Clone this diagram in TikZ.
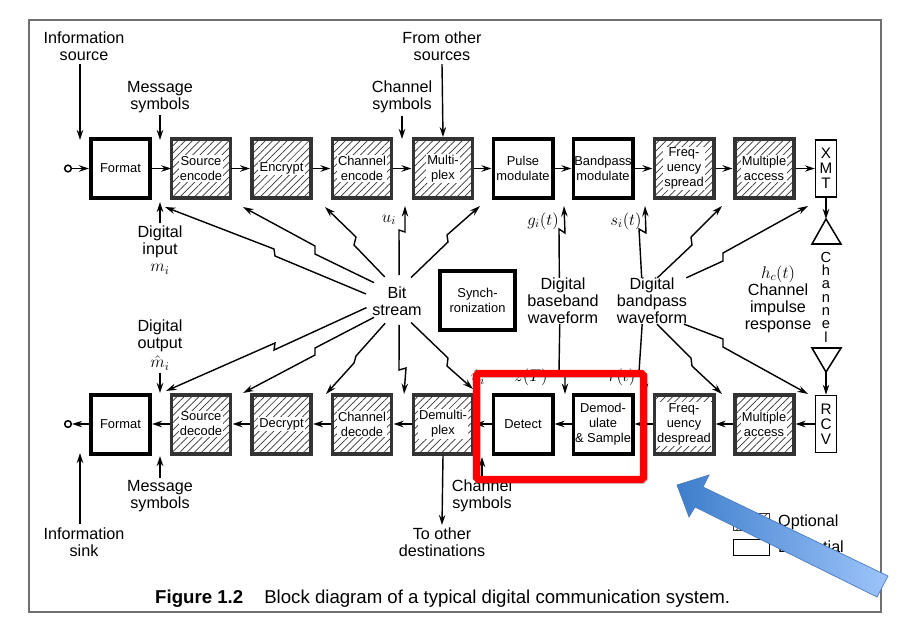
\documentclass[tikz,border=0pt]{standalone}
\usepackage{fontspec}
\setmainfont{Liberation Sans}
\usepackage{tikz}
\usetikzlibrary{
  arrows.meta,
  patterns.meta,
  shapes.geometric
}
\definecolor{FrameGray}{HTML}{707070}
\definecolor{HatchGray}{HTML}{333333}
\definecolor{ArrowDark}{HTML}{3E7ECC}
\definecolor{ArrowLight}{HTML}{9DC4FA}
\definecolor{ArrowEdge}{HTML}{4A7CBF}
\tikzset{
  plainbox/.style  = {draw=black, line width=3.4pt, fill=white, minimum width=1.77cm, minimum height=1.77cm, inner sep=0pt, align=center, font=\fontsize{11}{12.8}\selectfont},
  optbox/.style    = {draw=HatchGray, line width=3.4pt, minimum width=1.77cm, minimum height=1.77cm, inner sep=0pt, pattern={Lines[angle=45, distance=4.4pt, line width=0.6pt]}, pattern color=HatchGray},
  optlabel/.style  = {fill=white, inner sep=1pt, align=center, font=\fontsize{11}{12.8}\selectfont},
  thinbox/.style   = {draw=black, line width=1.2pt, fill=white, minimum width=0.63cm, minimum height=1.72cm, inner sep=0pt, align=center, font=\fontsize{13}{12.8}\selectfont},
  biglabel/.style  = {inner sep=0pt, yshift=-0.8pt, align=center, font=\fontsize{13.8}{14.5}\selectfont},
  arr/.style       = {line width=1.2pt, -{Stealth[length=8.5pt, width=5.5pt]}},
  bolt/.style      = {line width=1.2pt, line join=miter, -{Stealth[length=9pt, width=5.5pt]}},
  port/.style      = {circle, draw=black, line width=1.3pt, minimum size=0.2cm, inner sep=0pt},
  antenna/.style   = {draw=black, line width=1.3pt, line join=miter}
}

\begin{document}
\begin{tikzpicture}[x=0.03cm, y=-0.03cm]
  \useasboundingbox (0,0) rectangle (899,632);

  % Outer frame
  \draw [FrameGray, line width=1.7pt] (29,20) rectangle (881,612);

  % Transmit chain
  \node[plainbox] (fmta)  at (120.5,168.5) {Format};
  \node[optbox]   (senc)  at (201,168.5) {};
  \node[optbox]   (encr)  at (281.5,168.5) {};
  \node[optbox]   (cenc)  at (362,168.5) {};
  \node[optbox]   (mplx)  at (443,168.5) {};
  \node[plainbox] (pmod)  at (523,168.5) {Pulse\\modulate};
  \node[plainbox] (bmod)  at (603,168.5) {Bandpass\\modulate};
  \node[optbox]   (fspr)  at (684,168.5) {};
  \node[optbox]   (macc)  at (764,168.5) {};
  \node[thinbox]  (xmt)   at (826,168.5) {X\\M\\T};
  \node[optlabel] (sencl) at (senc) {Source\\encode};
  \node[optlabel] (encrl) at (encr) {Encrypt};
  \node[optlabel] (cencl) at (cenc) {Channel\\encode};
  \node[optlabel] (mplxl) at (mplx) {Multi-\\plex};
  \node[optlabel] (fsprl) at (fspr) {Freq-\\uency\\spread};
  \node[optlabel] (maccl) at (macc) {Multiple\\access};

  % Receive chain
  \node[plainbox] (fmtb)  at (120.5,424) {Format};
  \node[optbox]   (sdec)  at (201,424) {};
  \node[optbox]   (decr)  at (281.5,424) {};
  \node[optbox]   (cdec)  at (362,424) {};
  \node[optbox]   (dmux)  at (443,424) {};
  \node[plainbox] (dete)  at (523,424) {Detect};
  \node[plainbox] (demo)  at (603,424) {Demod-\\ulate\\\& Sample};
  \node[optbox]   (fdes)  at (684,424) {};
  \node[optbox]   (macb)  at (764,424) {};
  \node[thinbox]  (rcv)   at (826,424) {R\\C\\V};
  \node[optlabel] (sdecl) at (sdec) {Source\\decode};
  \node[optlabel] (decrl) at (decr) {Decrypt};
  \node[optlabel] (cdecl) at (cdec) {Channel\\decode};
  \node[optlabel] (dmuxl) at (dmux) {Demulti-\\plex};
  \node[optlabel] (fdesl) at (fdes) {Freq-\\uency\\despread};
  \node[optlabel] (macbl) at (macb) {Multiple\\access};

  \node[port] (srcpt) at (68,168.5) {};
  \node[port] (snkpt) at (68,424) {};

  % Middle of the picture
  \node[plainbox, minimum width=2.25cm] (sync) at (477.5,300.5) {Synch-\\ronization};
  \node[ellipse, minimum width=1.92cm, minimum height=1.5cm, inner sep=0pt, outer sep=0pt] (bit) at (397,300) {};
  \node[biglabel] (bitl) at (bit) {Bit\\stream};
  \node[biglabel] (base) at (563,300) {Digital\\baseband\\waveform};
  \node[biglabel] (pass) at (652,300) {Digital\\bandpass\\waveform};
  \node[biglabel] (impu) at (778,298) {$h_c(t)$\\Channel\\impulse\\response};
  \node[inner sep=0pt, align=center, font=\fontsize{12.5}{11.4}\selectfont] (chan) at (826,297) {C\\h\\a\\n\\n\\e\\l};

  % Labels
  \node[biglabel] (isrc) at (84,45)   {Information\\source};
  \node[biglabel] (msga) at (160,96)  {Message\\symbols};
  \node[biglabel] (chsa) at (402,96)  {Channel\\symbols};
  \node[biglabel] (from) at (442,45)  {From other\\sources};
  \node[biglabel] (dinp) at (160,249) {Digital\\input\\$m_i$};
  \node[biglabel] (dout) at (160,344) {Digital\\output\\[2pt]$\hat{m}_i$};
  \node[biglabel] (msgb) at (160,495) {Message\\symbols};
  \node[biglabel] (isnk) at (84,541)  {Information\\sink};
  \node[biglabel] (chsb) at (482,495) {Channel\\symbols};
  \node[biglabel] (dest) at (442,541) {To other\\destinations};
  \node[biglabel] (ui)   at (389,219) {$u_i$};
  \node[biglabel] (gi)   at (543,220) {$g_i(t)$};
  \node[biglabel] (si)   at (626,220) {$s_i(t)$};
  \node[biglabel] (uhat) at (478,376) {$\hat{u}_i$};
  \node[biglabel] (zt)   at (531,376) {$z(T)$};
  \node[biglabel] (rt)   at (622,376) {$r(t)$};

  % Free ends
  \coordinate (isrctip) at (80,140);
  \coordinate (msgatip) at (160,140);
  \coordinate (chsatip) at (402,139);
  \coordinate (dinptip) at (160,202);
  \coordinate (douttip) at (160,393);
  \coordinate (msgbtip) at (160,456);
  \coordinate (isnktip) at (80,453);
  \coordinate (chsbtip) at (482,457);
  \coordinate (anta)    at (826,219);
  \coordinate (antb)    at (826,372);

  \coordinate (tsenc) at (165,207);
  \coordinate (tencr) at (243,207);
  \coordinate (tcenc) at (325,207);
  \coordinate (tui)   at (405,206);
  \coordinate (tmplx) at (480,206);
  \coordinate (tgi)   at (564,206);
  \coordinate (tsi)   at (645,206);
  \coordinate (tfspr) at (722,206);
  \coordinate (txmt)  at (808,206);
  \coordinate (bsdec) at (166,391);
  \coordinate (bdecr) at (243,393);
  \coordinate (bcdec) at (326,394);
  \coordinate (bui)   at (404,394);
  \coordinate (bdmux) at (473,389);
  \coordinate (bzt)   at (565,394);
  \coordinate (brt)   at (645,394);
  \coordinate (bfdes) at (722,394);
  \coordinate (brcv)  at (808,394);

  % Arrows along the transmit chain
  \draw [arr] (srcpt) -- (fmta);
  \draw [arr] (fmta) -- (senc);
  \draw [arr] (senc) -- (encr);
  \draw [arr] (encr) -- (cenc);
  \draw [arr] (cenc) -- (mplx);
  \draw [arr] (mplx) -- (pmod);
  \draw [arr] (pmod) -- (bmod);
  \draw [arr] (bmod) -- (fspr);
  \draw [arr] (fspr) -- (macc);
  \draw [arr] (macc) -- (xmt);
  \draw [arr] (xmt) -- (anta);

  % Arrows along the receive chain
  \draw [arr] (antb) -- (rcv);
  \draw [arr] (rcv) -- (macb);
  \draw [arr] (macb) -- (fdes);
  \draw [arr] (fdes) -- (demo);
  \draw [arr] (demo) -- (dete);
  \draw [arr] (dete) -- (dmux);
  \draw [arr] (dmux) -- (cdec);
  \draw [arr] (cdec) -- (decr);
  \draw [arr] (decr) -- (sdec);
  \draw [arr] (sdec) -- (fmtb);
  \draw [arr] (fmtb) -- (snkpt);

  % Antennas
  \draw [antenna] (anta) -- (812,244) -- (841,244) -- cycle;
  \draw [antenna] (antb) -- (812,348) -- (841,348) -- cycle;

  % Arrows from the labels
  \draw [arr] ([yshift=-3pt]isrc.south -| isrctip) -- (isrctip);
  \draw [arr] ([yshift=-2pt]msga.south -| msgatip) -- (msgatip);
  \draw [arr] ([yshift=-2pt]chsa.south -| chsatip) -- (chsatip);
  \draw [arr] ([yshift=-3pt]from.south) -- (mplx.north);
  \draw [arr] ([yshift=2pt]dinp.north -| dinptip) -- (dinptip);
  \draw [arr] ([yshift=-2pt]dout.south -| douttip) -- (douttip);
  \draw [arr] ([yshift=2pt]msgb.north -| msgbtip) -- (msgbtip);
  \draw [arr] ([yshift=3pt]isnk.north -| isnktip) -- (isnktip);
  \draw [arr] ([yshift=2pt]chsb.north -| chsbtip) -- (chsbtip);
  \draw [arr] (dmux.south) -- ([yshift=2pt]dest.north);

  % Bit stream, upward
  \draw [bolt] (bit.169) -- (275,256) -- (274,249) -- (tsenc);
  \draw [bolt] (bit.143) -- (315,254) -- (315,246) -- (tencr);
  \draw [bolt] (bit.118) -- (354,245) -- (356,237) -- (tcenc);
  \draw [bolt] (bit.85)  -- (399,230) -- (405,232) -- (tui);
  \draw [bolt] (bit.58)  -- (448,242) -- (447,235) -- (tmplx);

  % Bit stream, downward
  \draw [bolt] (bit.194) -- (274,350) -- (275,343) -- (bsdec);
  \draw [bolt] (bit.217) -- (315,348) -- (315,355) -- (bdecr);
  \draw [bolt] (bit.243) -- (356,356) -- (354,363) -- (bcdec);
  \draw [bolt] (bit.275) -- (399,370) -- (406,368) -- (bui);
  \draw [bolt] (bit.302) -- (448,358) -- (447,366) -- (bdmux);

  % Waveforms, upward
  \draw [bolt] (base.99)  -- (559,229) -- (565,233) -- (tgi);
  \draw [bolt] (pass.114) -- (639,229) -- (646,233) -- (tsi);
  \draw [bolt] (pass.77)  -- (692,245) -- (691,237) -- (tfspr);
  \draw [bolt] (pass.34)  -- (723,261) -- (723,253) -- (txmt);

  % Waveforms, downward
  \draw [bolt] (base.262) -- (559,372) -- (565,376) -- (bzt);
  \draw [bolt] (pass.247) -- (639,372) -- (645,376) -- (brt);
  \draw [bolt] (pass.282) -- (691,358) -- (692,366) -- (bfdes);
  \draw [bolt] (pass.324) -- (723,339) -- (723,347) -- (brcv);

  % Legend
  \node[optbox, line width=1.2pt, minimum width=1.08cm, minimum height=0.5cm] (legopt) at (751.5,522) {};
  \node[plainbox, line width=1.2pt, minimum width=1.08cm, minimum height=0.48cm] (legess) at (751.5,547.5) {};
  \node[biglabel, anchor=west] (legoptl) at (778,521) {Optional};
  \node[biglabel, anchor=west] (legessl) at (778,546) {Essential};

  % Caption
  \node[inner sep=0pt, anchor=west, font=\fontsize{15.9}{18}\selectfont] (capt) at (155,598.5) {\textbf{Figure 1.2}\hspace{18pt}Block diagram of a typical digital communication system.};

  % Highlight on top of the scan
  \draw [black, opacity=0.2, line width=6pt, rounded corners=1.5pt] (477.5,374.5) rectangle (644.5,480.5);
  \draw [red, line width=6pt, rounded corners=1.5pt] (476.5,373.5) rectangle (643.5,479.5);
  \draw [draw=ArrowEdge, line width=0.6pt, left color=ArrowDark, right color=ArrowLight]
    (677,485) -- (709,475) -- (703,487) -- (888,576) -- (877,597) -- (695,507) -- (689,517) -- cycle;
\end{tikzpicture}
\end{document}
